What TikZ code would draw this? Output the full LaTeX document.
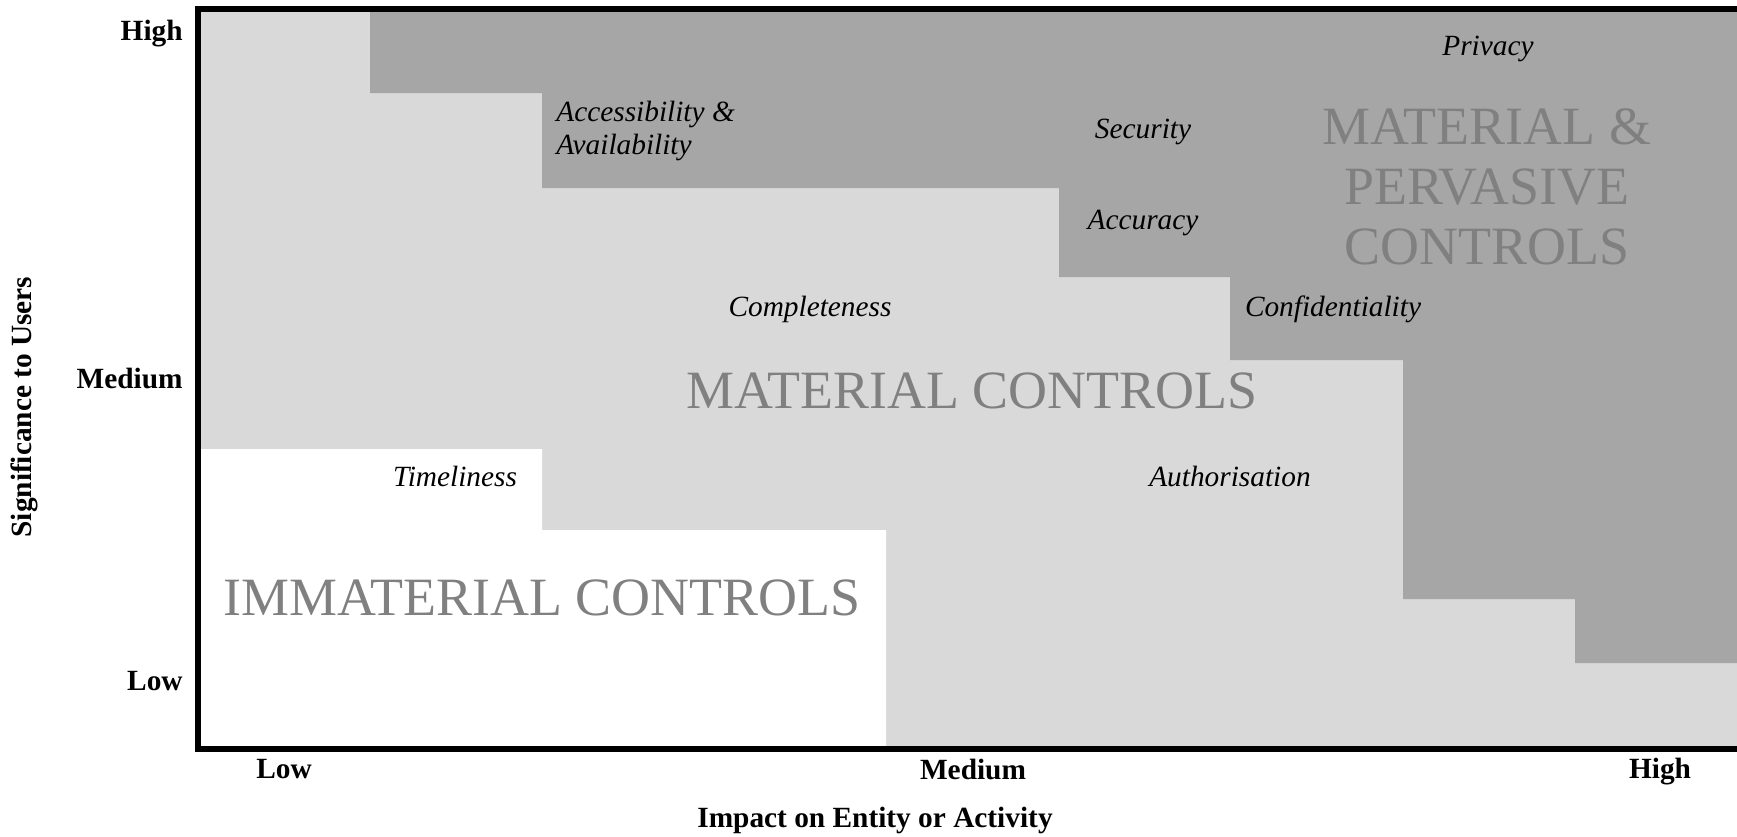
\documentclass[tikz,border=0pt]{standalone}
\usepackage{fontspec}
\setmainfont{Liberation Serif}
\definecolor{lightfill}{HTML}{D9D9D9}
\definecolor{darkfill}{HTML}{A6A6A6}
\definecolor{zonetext}{HTML}{808080}
\tikzset{
  axislabel/.style={font=\fontsize{16.7}{20}\selectfont\bfseries, inner sep=0pt},
  ctrl/.style={font=\fontsize{16.7}{18.7}\selectfont\itshape, inner sep=0pt},
  zone/.style={font=\fontsize{30.7}{34.3}\selectfont, text=zonetext, align=center, inner sep=0pt},
}
\begin{document}
\begin{tikzpicture}[x=0.02cm, y=-0.02cm]
\useasboundingbox (0,0) rectangle (1737,836);
% material controls (everything inside the frame)
\fill[lightfill] (198,9) rectangle (1737,749);
% immaterial controls
\fill[white] (198,449) -- (542,449) -- (542,530) -- (886,530)
      -- (886,749) -- (198,749) -- cycle;
% material & pervasive controls
\fill[darkfill] (370,9) -- (1737,9) -- (1737,663) -- (1575,663)
      -- (1575,599) -- (1403,599) -- (1403,360) -- (1230,360)
      -- (1230,277) -- (1059,277) -- (1059,188) -- (542,188)
      -- (542,93) -- (370,93) -- cycle;
% frame
\draw[line width=3.4pt] (1737,9) -- (198,9) -- (198,749) -- (1737,749);
% controls
\node[ctrl] (privacy) at (1488,49) {Privacy};
\node[ctrl, anchor=west, align=left] (access) at (556,131) {Accessibility \&\\Availability};
\node[ctrl] (security) at (1143,132) {Security};
\node[ctrl] (accuracy) at (1143,223) {Accuracy};
\node[ctrl] (confid) at (1333,309) {Confidentiality};
\node[ctrl] (complete) at (810,309) {Completeness};
\node[ctrl] (timely) at (455,476) {Timeliness};
\node[ctrl] (authorise) at (1230,476) {Authorisation};
% zones
\node[zone] (pervasive) at (1487,187) {MATERIAL \&\\PERVASIVE\\CONTROLS};
\node[zone] (material) at (972,391) {MATERIAL CONTROLS};
\node[zone] (immaterial) at (542,598) {IMMATERIAL CONTROLS};
% axes
\node[axislabel, anchor=east] (yhigh) at (183,34) {High};
\node[axislabel, anchor=east] (ymed) at (183,378) {Medium};
\node[axislabel, anchor=east] (ylow) at (183,681) {Low};
\node[axislabel] (xlow) at (284,769) {Low};
\node[axislabel] (xmed) at (973,769) {Medium};
\node[axislabel] (xhigh) at (1660,772) {High};
\node[axislabel] (xtitle) at (875,820) {Impact on Entity or Activity};
\node[axislabel, rotate=90] (ytitle) at (24,407) {Significance to Users};
\end{tikzpicture}
\end{document}
